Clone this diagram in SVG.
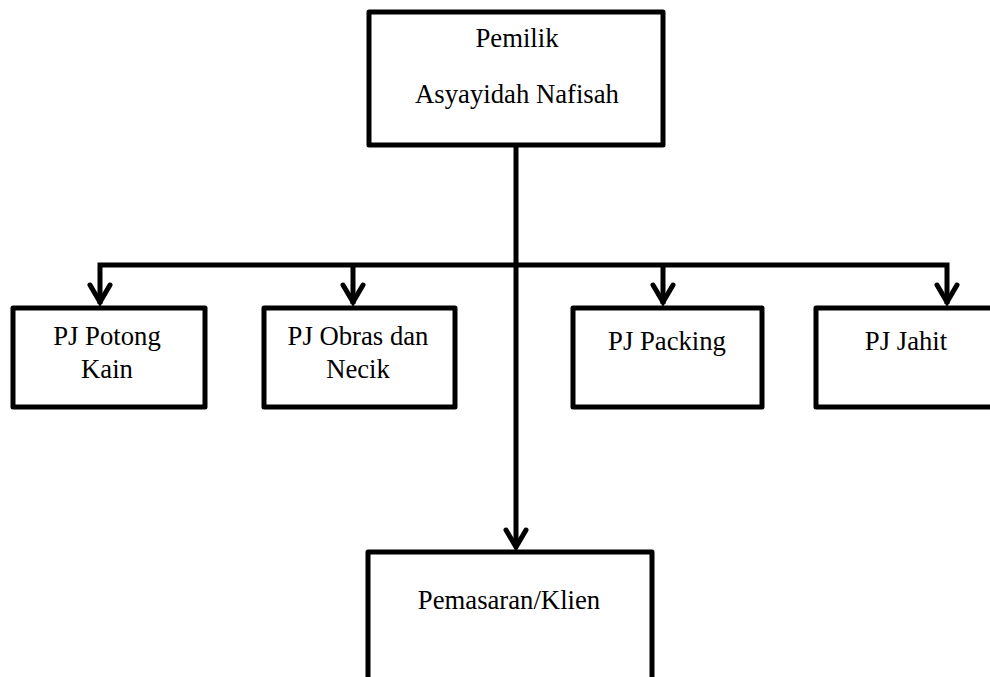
<svg xmlns="http://www.w3.org/2000/svg" width="990" height="677" viewBox="0 0 990 677">
<style>
.box{fill:#fff;stroke:#000;stroke-width:5;stroke-linejoin:round}
.t{font-family:"Liberation Serif","Times New Roman",serif;font-size:26.7px;fill:#000;text-anchor:middle}
.ln{fill:none;stroke:#000;stroke-width:5;stroke-linejoin:miter}
.ah{fill:none;stroke:#000;stroke-width:5;stroke-linecap:round;stroke-linejoin:miter}
</style>
<rect width="990" height="677" fill="#fff"/>
<g id="connectors">
<path class="ln" d="M516,147 V546"/>
<path class="ln" d="M100,304 V265 H947 V304"/>
<path class="ln" d="M353,265 V304"/>
<path class="ln" d="M663,265 V304"/>
<path class="ah" d="M90,285 L100,302 L110,285"/>
<path class="ah" d="M343,285 L353,302 L363,285"/>
<path class="ah" d="M653,285 L663,302 L673,285"/>
<path class="ah" d="M937,285 L947,302 L957,285"/>
<path class="ah" d="M506,530 L516,547 L526,530"/>
</g>
<g id="pemilik">
<rect class="box" x="369" y="12" width="294" height="133"/>
<text class="t" x="517" y="47">Pemilik</text>
<text class="t" x="517" y="103">Asyayidah Nafisah</text>
</g>
<g id="potong">
<rect class="box" x="13" y="308" width="192" height="99"/>
<text class="t" x="107" y="345">PJ Potong</text>
<text class="t" x="107" y="378">Kain</text>
</g>
<g id="obras">
<rect class="box" x="264" y="308" width="191" height="99"/>
<text class="t" x="358" y="345">PJ Obras dan</text>
<text class="t" x="358" y="378">Necik</text>
</g>
<g id="packing">
<rect class="box" x="573" y="308" width="189" height="99"/>
<text class="t" x="667" y="350">PJ Packing</text>
</g>
<g id="jahit">
<rect class="box" x="816" y="308" width="190" height="99"/>
<text class="t" x="906" y="350">PJ Jahit</text>
</g>
<g id="pemasaran">
<rect class="box" x="368" y="552" width="284" height="140"/>
<text class="t" x="509" y="609">Pemasaran/Klien</text>
</g>
</svg>
